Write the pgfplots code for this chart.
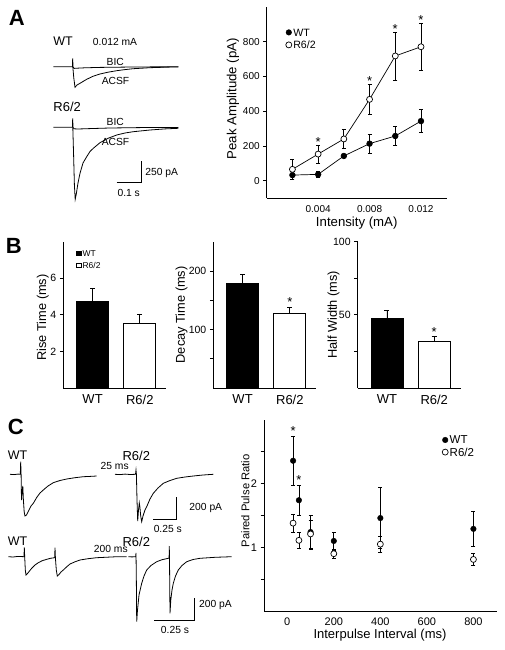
\documentclass[border=0pt]{standalone}
\usepackage{pgfplots}
\pgfplotsset{compat=1.18}
\usepackage{fontspec}
\setmainfont{Liberation Sans}
\newcommand{\fs}[1]{\fontsize{#1}{#1}\selectfont}
\tikzset{tx/.style={text depth=0pt, inner sep=0pt}}
\pgfplotsset{
  dataaxis/.style={scale only axis, axis x line*=bottom, axis y line*=left,
    tick align=outside, major tick length=3.5pt, x tick style={draw=none},
    /pgf/number format/assume math mode=true, scaled x ticks=false, scaled y ticks=false,
    axis line style={line width=0.8pt, black}, y tick style={line width=0.8pt, black},
    clip=false},
  ebar/.style={error bars/y dir=both, error bars/y explicit,
    error bars/error bar style={line width=0.7pt, black},
    error bars/error mark options={rotate=90, mark size=2pt, line width=0.7pt, black}},
  ebarp/.style={error bars/y dir=plus, error bars/y explicit,
    error bars/error bar style={line width=0.7pt, black},
    error bars/error mark options={rotate=90, mark size=2.5pt, line width=0.7pt, black}},
  wtmark/.style={black, mark=*, mark size=2.8pt, mark options={fill=black, draw=black, solid}},
  r6mark/.style={black, mark=*, mark size=3pt, mark options={fill=white, draw=black, line width=0.7pt, solid}},
  barax/.style={dataaxis, width=103pt, height=146.3pt, xmin=-0.62, xmax=1.56, ymin=0,
    xtick={0,1}, xticklabels={WT,R6/2}, xticklabel style={font=\fs{13}},
    yticklabel style={font=\fs{10.5}}, ylabel style={font=\fs{12.8}},
    ybar, bar width=32pt, bar shift=0pt},
  tr/.style={black, line width=0.8pt, no marks},
}
\begin{document}
\begin{tikzpicture}
\useasboundingbox (0pt,0pt) rectangle (505pt,650pt);
% ---------- canvas for traces and annotations (image pixel coordinates) ----------
\begin{axis}[at={(0pt,0pt)}, anchor=south west, scale only axis, width=505pt, height=650pt,
  xmin=0, xmax=505, ymin=0, ymax=650, y dir=reverse, hide axis, clip=false]
% Panel A, WT
\addplot[tr] coordinates {(53.3,66.7) (72.4,66.7) (72.7,58.3) (73.0,66.7) (74,68.4) (77,68.2) (85,67.8) (100,67.4) (125,67.1) (150,66.9) (178.3,66.8)};
\addplot[tr] coordinates {(72.8,66.7) (73.8,78) (75,87.3) (77,85) (80,83.3) (86.7,79.3) (93,76.3) (100,74) (108,72.2) (116.7,70.7) (125,69.6) (133.3,68.7) (150,67.7) (165,67.2) (178.3,66.9)};
% Panel A, R6/2
\addplot[tr] coordinates {(53.3,127.3) (72.4,127.3) (72.7,118.3) (73.0,127.3) (74,128.8) (78,129) (90,128.6) (110,128) (140,127.6) (178.3,127.4)};
\addplot[tr] coordinates {(72.8,127.3) (73.6,155) (74.4,185) (75.2,199.3) (76.3,194) (78,183) (80,173.3) (83,163) (86.7,156.7) (90,151.5) (93.3,148.3) (100,142.7) (108,138.3) (116.7,135) (125,133) (133.3,131.7) (150,130) (165,128.9) (178.3,128.3)};
\addplot[tr] coordinates {(116.7,182.7) (141.7,182.7) (141.7,161)};
\node[tx, font=\fs{12.5}] at (axis cs:63,41.7) {WT};
\node[tx, font=\fs{10.3}] at (axis cs:115,41.7) {0.012 mA};
\node[tx, font=\fs{10.3}] at (axis cs:115.3,61.7) {BIC};
\node[tx, font=\fs{10.3}] at (axis cs:115.5,81.3) {ACSF};
\node[tx, font=\fs{13}] at (axis cs:67.2,106.7) {R6/2};
\node[tx, font=\fs{10.3}] at (axis cs:115.3,121.7) {BIC};
\node[tx, font=\fs{10.3}] at (axis cs:115.5,141.5) {ACSF};
\node[tx, font=\fs{10.3}] at (axis cs:161.7,172) {250 pA};
\node[tx, font=\fs{10.3}] at (axis cs:128.7,193) {0.1 s};
% Panel C, 25 ms
\addplot[tr] coordinates {(10,474.3) (14,474.6) (18,474.1) (20.3,474.3) (20.7,461.7) (21.1,474.3) (21.5,500) (22.3,490) (22.8,486) (23.4,500) (24.2,512) (25,516) (26.5,515) (28.5,511) (31,506) (33.3,503.3) (37,497) (40,493) (43.3,490) (48,486) (53.3,482.7) (60,480.5) (66.7,479) (75,477.7) (83.3,476.7) (90,476.4) (96.7,476)};
\addplot[tr] coordinates {(115,474.3) (120,474.6) (125,474.1) (130,474.5) (135.5,474.3) (136,470) (136.4,474.3) (137,500) (137.7,521) (138.5,510) (139.3,503) (139.9,507) (140.7,516) (141.7,521.7) (143,516) (145,510) (146.7,506.7) (150,499) (153.3,493.3) (158,488) (163.3,483.3) (170,480.5) (176.7,478.3) (185,477) (193.3,476) (203,475) (213.3,474.3)};
\addplot[tr] coordinates {(153.3,519.3) (176,519.3) (176,497.3)};
\node[tx, font=\fs{12.5}] at (axis cs:17.5,455.5) {WT};
\node[tx, font=\fs{13}] at (axis cs:136.3,455.5) {R6/2};
\node[tx, font=\fs{10.3}] at (axis cs:114.7,466.3) {25 ms};
\node[tx, font=\fs{10.3}] at (axis cs:205.8,507) {200 pA};
\node[tx, font=\fs{10.3}] at (axis cs:167.8,528.7) {0.25 s};
% Panel C, 200 ms
\addplot[tr] coordinates {(8.3,556.7) (13,557) (18,556.4) (24,556.7) (24.3,547.3) (24.7,556.7) (25.3,570) (26,575) (27.5,573.5) (29.5,571) (31.7,568.3) (35,565) (38.3,562.7) (42,560.8) (46.7,559.3) (51,558.2) (54.7,557.7) (55,547.7) (55.4,557.7) (56.3,570) (57.3,576) (59,574.5) (61,572) (63.3,570) (66.5,567) (70,564) (75,561.8) (80,560) (88,558.7) (96.7,557.7) (105,557.3) (115,556.8) (126.7,556.7)};
\addplot[tr] coordinates {(128.3,556.7) (132,556.9) (135.7,556.7) (136,553) (136.3,575) (136.7,621.7) (137.5,610) (139,595) (141.7,583.3) (144,576) (146.7,570) (151,565.5) (156.7,561.7) (162,559.7) (168.3,558.3) (169.1,558.3) (169.3,546) (169.6,570) (170,613.3) (170.8,600) (172,590) (173.3,583.3) (175.5,576) (178.3,570) (182,565.5) (186.7,561.7) (193,559.5) (200,558.3) (215,557.3) (231.7,556.7)};
\addplot[tr] coordinates {(154.3,620) (194,620) (194,598.3)};
\node[tx, font=\fs{12.5}] at (axis cs:17.5,541.3) {WT};
\node[tx, font=\fs{13}] at (axis cs:136.3,541.3) {R6/2};
\node[tx, font=\fs{10.3}] at (axis cs:110.8,548.8) {200 ms};
\node[tx, font=\fs{10.3}] at (axis cs:215.5,604.2) {200 pA};
\node[tx, font=\fs{10.3}] at (axis cs:175,629.7) {0.25 s};
% panel letters
\node[tx, font=\bfseries\fs{22}] at (axis cs:16.7,18) {A};
\node[tx, font=\bfseries\fs{22}] at (axis cs:13.7,245.8) {B};
\node[tx, font=\bfseries\fs{22}] at (axis cs:15.7,427.2) {C};
\end{axis}
% ---------- Panel A: peak amplitude ----------
\begin{axis}[dataaxis, at={(266.7pt,452pt)}, anchor=south west, width=180pt, height=191pt,
  xmin=0, xmax=0.014, ymin=-100, ymax=1000,
  xtick={0.004,0.008,0.012}, xticklabels={0.004,0.008,0.012},
  ytick={0,200,400,600,800},
  tick label style={font=\fs{10}},
  xlabel={Intensity (mA)}, ylabel={Peak Amplitude (pA)},
  label style={font=\fs{13.2}},
  xlabel style={at={(axis description cs:0.5,-0.129)}, anchor=center},
  ylabel style={at={(axis description cs:-0.187,0.52)}, anchor=center},
  legend style={at={(0.105,0.895)}, anchor=north west, draw=none, fill=none,
    inner sep=0pt, row sep=2pt, nodes={inner sep=1.5pt, text depth=0pt}},
  legend cell align=left,
  legend image code/.code={\draw[#1] plot coordinates {(0.1cm,0cm)};}]
\addlegendimage{wtmark}\addlegendentry{\fs{10.6}WT}
\addlegendimage{r6mark}\addlegendentry{\fs{10.6}R6/2}
\addplot[wtmark, line width=0.7pt, ebar, forget plot] coordinates {
(0.002,32) +- (0,25) (0.004,36) +- (0,15) (0.006,142) +- (0,10)
(0.008,213) +- (0,55) (0.010,257) +- (0,54) (0.012,343) +- (0,67)};
\addplot[r6mark, line width=0.7pt, ebar, forget plot] coordinates {
(0.002,65) +- (0,60) (0.004,153) +- (0,52) (0.006,240) +- (0,56)
(0.008,468) +- (0,85) (0.010,718) +- (0,138) (0.012,771) +- (0,134)};
\node[tx, anchor=north, font=\fs{13}] at (axis cs:0.004,249) {*};
\node[tx, anchor=north, font=\fs{13}] at (axis cs:0.008,598) {*};
\node[tx, anchor=north, font=\fs{13}] at (axis cs:0.010,902) {*};
\node[tx, anchor=north, font=\fs{13}] at (axis cs:0.012,950) {*};
\end{axis}
% ---------- Panel B ----------
\begin{axis}[barax, at={(63.3pt,262pt)}, anchor=south west, ymax=8, ytick={2,4,6},
  ylabel={Rise Time (ms)},
  ylabel style={at={(axis description cs:-0.2,0.482)}, anchor=center},
  legend style={at={(0.125,0.95)}, anchor=north west, draw=none, fill=none,
    inner sep=0pt, row sep=4pt, nodes={inner sep=1pt, text depth=0pt}},
  legend cell align=left,
  legend image code/.code={\draw[#1, line width=0.6pt] (0pt,-2.3pt) rectangle (4.6pt,2.3pt);}]
\addlegendimage{fill=black, draw=black}\addlegendentry{\fs{8.5}WT}
\addlegendimage{fill=white, draw=black}\addlegendentry{\fs{8.5}R6/2}
\addplot[fill=black, draw=black, line width=0.7pt, ebarp, forget plot] coordinates {(0,4.72) +- (0,0.74)};
\addplot[fill=white, draw=black, line width=0.7pt, ebarp, forget plot] coordinates {(1,3.56) +- (0,0.49)};
\end{axis}
\begin{axis}[barax, at={(213.3pt,262pt)}, anchor=south west, ymax=250,
  ytick={50,100,150,200}, yticklabels={,100,,200},
  ylabel={Decay Time (ms)},
  ylabel style={at={(axis description cs:-0.307,0.5)}, anchor=center}]
\addplot[fill=black, draw=black, line width=0.7pt, ebarp] coordinates {(0,178) +- (0,15.4)};
\addplot[fill=white, draw=black, line width=0.7pt, ebarp] coordinates {(1,127.6) +- (0,10.7)};
\node[tx, anchor=north, font=\fs{13}] at (axis cs:1,155) {*};
\end{axis}
\begin{axis}[barax, at={(357.7pt,262pt)}, anchor=south west, ymax=100,
  ytick={25,50,75,100}, yticklabels={,50,,100},
  ylabel={Half Width (ms)},
  ylabel style={at={(axis description cs:-0.235,0.5)}, anchor=center}]
\addplot[fill=black, draw=black, line width=0.7pt, ebarp] coordinates {(0,47.5) +- (0,5.7)};
\addplot[fill=white, draw=black, line width=0.7pt, ebarp] coordinates {(1,32) +- (0,3.3)};
\node[tx, anchor=north, font=\fs{13}] at (axis cs:1,41.5) {*};
\end{axis}
% ---------- Panel C: paired pulse ratio ----------
\begin{axis}[dataaxis, at={(264pt,39pt)}, anchor=south west, width=232.7pt, height=191pt,
  xmin=-100, xmax=900, ymin=0, ymax=3,
  xtick={0,200,400,600,800},
  ytick={0.5,1,1.5,2,2.5}, yticklabels={,1,,2,},
  tick label style={font=\fs{11}},
  xlabel={Interpulse Interval (ms)}, ylabel={Paired Pulse Ratio},
  label style={font=\fs{13}},
  xlabel style={at={(axis description cs:0.4985,-0.126)}, anchor=center},
  ylabel style={at={(axis description cs:-0.08,0.577)}, anchor=center, font=\fs{11.2}},
  legend style={at={(0.765,0.925)}, anchor=north west, draw=none, fill=none,
    inner sep=0pt, row sep=1pt, nodes={inner sep=1.5pt, text depth=0pt}},
  legend cell align=left,
  legend image code/.code={\draw[#1] plot coordinates {(0.1cm,0cm)};}]
\addlegendimage{wtmark}\addlegendentry{\fs{11.5}WT}
\addlegendimage{r6mark}\addlegendentry{\fs{11.5}R6/2}
\addplot[wtmark, only marks, ebar, forget plot] coordinates {
(25,2.36) +- (0,0.39) (50,1.74) +- (0,0.24) (100,1.24) +- (0,0.27)
(200,1.10) +- (0,0.14) (400,1.46) +- (0,0.48) (800,1.29) +- (0,0.28)};
\addplot[r6mark, only marks, ebar, forget plot] coordinates {
(25,1.38) +- (0,0.14) (50,1.11) +- (0,0.12) (100,1.21) +- (0,0.22)
(200,0.90) +- (0,0.07) (400,1.05) +- (0,0.125) (800,0.81) +- (0,0.10)};
\node[tx, anchor=north, font=\fs{13}] at (axis cs:25,2.895) {*};
\node[tx, anchor=north, font=\fs{13}] at (axis cs:50,2.125) {*};
\end{axis}
\end{tikzpicture}
\end{document}
